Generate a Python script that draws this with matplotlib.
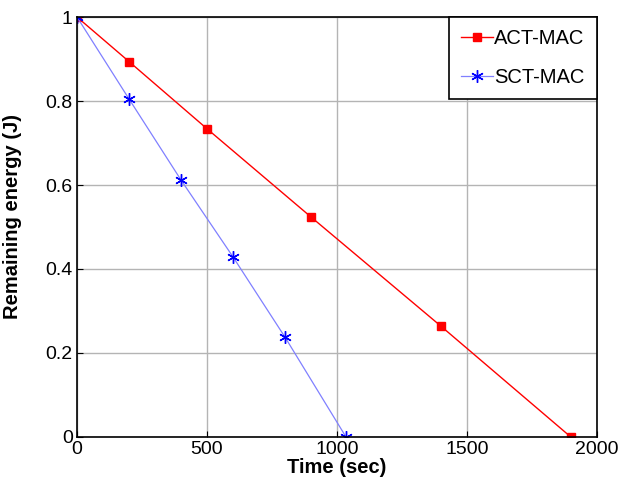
import matplotlib
matplotlib.use('Agg')
from matplotlib import pyplot as plt

# data
act_t = [0, 200, 500, 900, 1400, 1900]
act_e = [1.0, 0.894, 0.734, 0.524, 0.264, 0.0]
sct_t = [0, 200, 400, 600, 800, 1035]
sct_e = [1.0, 0.805, 0.612, 0.429, 0.238, 0.0]

xticks = [0, 500, 1000, 1500, 2000]
yticks = [0, 0.2, 0.4, 0.6, 0.8, 1]
yticklabels = ['0', '0.2', '0.4', '0.6', '0.8', '1']

plt.rcParams['font.family'] = ['Liberation Sans', 'DejaVu Sans']

fig = plt.figure(figsize=(6.39, 4.78), dpi=100)
ax = fig.add_axes([0.1205, 0.0858, 0.8135, 0.8786])

ax.plot(act_t, act_e, color='red', lw=1, marker='s', ms=6, label='ACT-MAC')
ax.plot(sct_t, sct_e, color='#8080ff', lw=0.9, marker=(6, 2, 0), ms=9,
        mfc='blue', mec='blue', mew=1.0, label='SCT-MAC')

ax.set_xlim(0, 2000)
ax.set_ylim(0, 1)
ax.set_xticks(xticks)
ax.set_yticks(yticks)
ax.set_yticklabels(yticklabels)
ax.tick_params(direction='in', labelsize=14, length=4, width=0.8, pad=3)
ax.grid(True, color='#b4b4b4', lw=1.0)
ax.set_axisbelow(True)
for s in ax.spines.values():
    s.set_linewidth(1.2)

ax.set_xlabel('Time (sec)', fontsize=14.5, fontweight='bold', labelpad=0)
ax.set_ylabel('Remaining energy (J)', fontsize=14.5, fontweight='bold', labelpad=8)
ax.yaxis.set_label_coords(-0.105, 0.525)

leg = ax.legend(loc='upper right', borderaxespad=0, fontsize=14.5,
                fancybox=False, framealpha=1, edgecolor='black',
                handlelength=1.6, handletextpad=0.05, labelspacing=1.0,
                borderpad=0.6)
leg.get_frame().set_linewidth(1.2)

fig.savefig('out.png', dpi=100)
